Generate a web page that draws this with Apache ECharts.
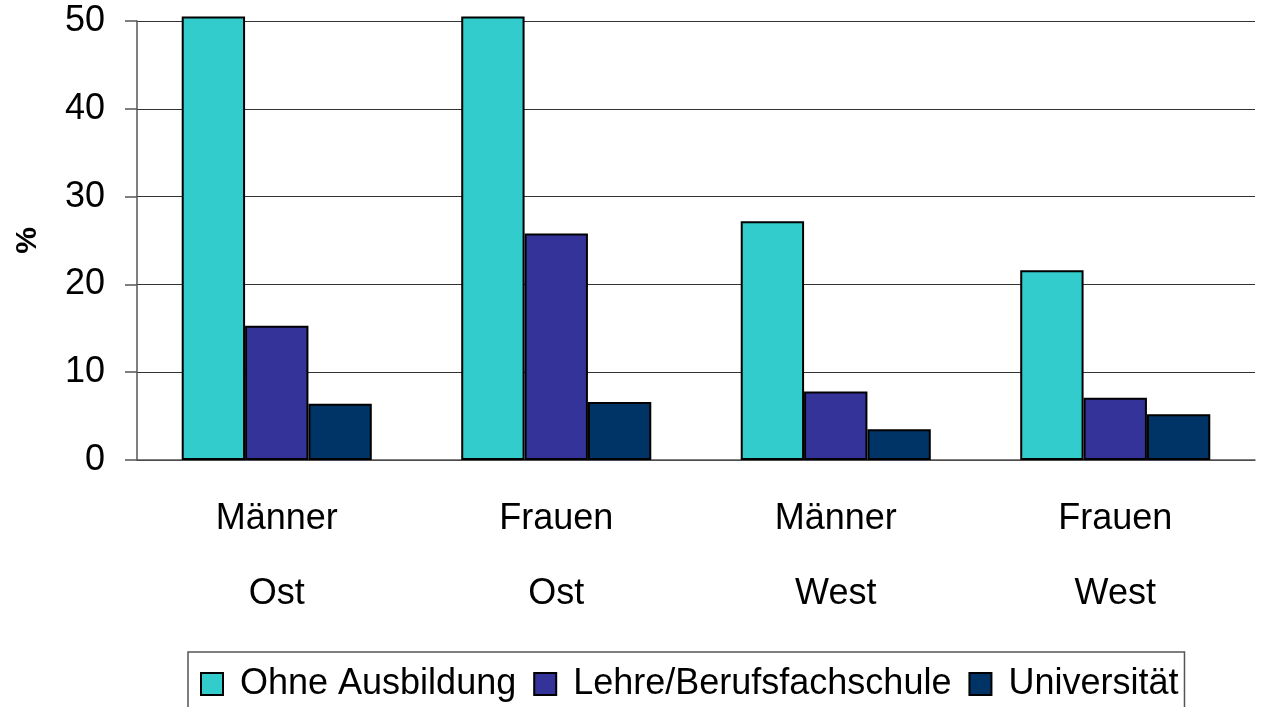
<!DOCTYPE html>
<html>
<head>
<meta charset="utf-8">
<script src="https://cdn.jsdelivr.net/npm/echarts@6/dist/echarts.min.js"></script>
<style>
  html, body { margin: 0; padding: 0; background: #fff; }
  #chart { width: 1263px; height: 707px; }
</style>
</head>
<body>
<div id="chart"></div>
<script>
// categories (two line labels)
var categories = ['Männer\nOst', 'Frauen\nOst', 'Männer\nWest', 'Frauen\nWest'];
var seriesNames = ['Ohne Ausbildung', 'Lehre/Berufsfachschule', 'Universität'];
// first two bars run off the top of the chart
var ohneAusbildung = [50.5, 50.5, 27.2, 21.6];
var lehre = [15.3, 25.8, 7.8, 7.1];
var universitaet = [6.4, 6.6, 3.5, 5.2];
var yTicks = [0, 10, 20, 30, 40, 50];

var colors = ['#33CCCC', '#333399', '#003366'];
var font = '"Liberation Sans", Arial, sans-serif';

var chart = echarts.init(document.getElementById('chart'));

function bar(name, data, color){
    return {
        name: name,
        type: 'bar',
        data: data,
        clip: false,
        barGap: '0%',
        barCategoryGap: '32%',
        itemStyle: {
            color: color,
            borderColor: '#000',
            borderWidth: 2
        }
    };
}

chart.setOption({
    animation: false,
    textStyle: { fontFamily: font },
    grid: {
        left: 137,
        right: 8,
        top: 21,
        bottom: 247
    },
    legend: {
        data: seriesNames,
        left: 188,
        top: 652,
        orient: 'horizontal',
        icon: 'rect',
        itemWidth: 22,
        itemHeight: 22,
        itemGap: 17,
        padding: [14, 6, 16, 12],
        borderColor: '#555',
        borderWidth: 1.5,
        textStyle: {
            fontSize: 36,
            color: '#000',
            fontFamily: font,
            padding: [0, 0, 0, 12]
        }
    },
    xAxis: {
        type: 'category',
        data: categories,
        axisLine: { show: true, lineStyle: { color: '#555', width: 1.5 } },
        axisTick: { show: false },
        axisLabel: {
            color: '#000',
            fontSize: 36,
            lineHeight: 75,
            margin: 22,
            fontFamily: font
        }
    },
    yAxis: {
        type: 'value',
        min: yTicks[0],
        max: yTicks[yTicks.length - 1],
        interval: 10,
        name: '%',
        nameLocation: 'middle',
        nameRotate: 90,
        nameGap: 94,
        nameTextStyle: { fontSize: 30, fontWeight: 'bold', color: '#000', fontFamily: font },
        axisLine: { show: true, lineStyle: { color: '#555', width: 1.5 } },
        axisTick: { show: true, inside: false, length: 12, lineStyle: { color: '#555', width: 1.5 } },
        axisLabel: {
            color: '#000',
            fontSize: 36,
            margin: 32,
            fontFamily: font
        },
        splitLine: { show: true, lineStyle: { color: '#333', width: 1.2 } }
    },
    series: [
        bar(seriesNames[0], ohneAusbildung, colors[0]),
        bar(seriesNames[1], lehre, colors[1]),
        bar(seriesNames[2], universitaet, colors[2])
    ]
});
</script>
</body>
</html>
